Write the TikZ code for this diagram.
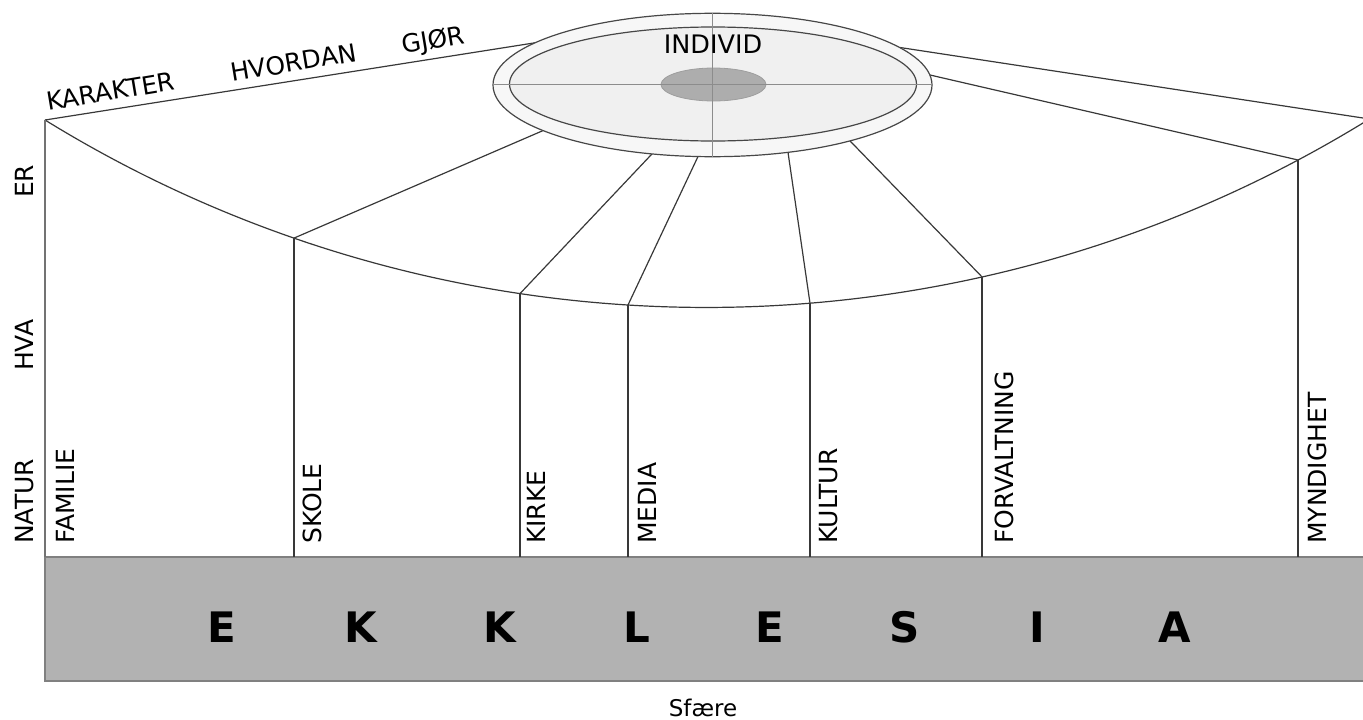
\documentclass[tikz,border=0pt]{standalone}
\usepackage{fontspec}
\setmainfont{DejaVu Sans}
\begin{document}
\begin{tikzpicture}[x=1pt,y=-1pt,
  ln/.style={draw=black!78,line width=1.2pt},
  vlabel/.style={rotate=90,anchor=base west,inner sep=0pt,font=\fontsize{25}{28}\selectfont},
  tlabel/.style={rotate=9.5,anchor=base west,inner sep=0pt,font=\fontsize{25}{28}\selectfont},
  big/.style={anchor=base,inner sep=0pt,font=\fontsize{42}{46}\selectfont\bfseries}]
\useasboundingbox (0,0) rectangle (1363,720);
% gray base
\fill[fill=black!30] (45,557) rectangle (1363,681);
\draw[draw=black!50,line width=1.6pt] (1363,557) -- (45,557) -- (45,681) -- (1363,681);
% coordinates on the big arc
\coordinate (aL) at (45,120);
\coordinate (a1) at (294,238.1);
\coordinate (a2) at (520,293.6);
\coordinate (a3) at (628,305.0);
\coordinate (a4) at (810,303.2);
\coordinate (a5) at (982,276.9);
\coordinate (a6) at (1298,160.0);
\coordinate (aR) at (1363,122.9);
% coordinates on the ellipse
\coordinate (eL) at (535,42.8);
\coordinate (e1) at (543,130.6);
\coordinate (e2) at (652,153.9);
\coordinate (e3) at (698,156.5);
\coordinate (e4) at (788,152.3);
\coordinate (e5) at (850,140.9);
\coordinate (e6) at (930,75);
\coordinate (e7) at (900,47.5);
\coordinate (tR) at (1363,118);
% bottom coordinates
\coordinate (b0) at (45,557);
\coordinate (b1) at (294,557);
\coordinate (b2) at (520,557);
\coordinate (b3) at (628,557);
\coordinate (b4) at (810,557);
\coordinate (b5) at (982,557);
\coordinate (b6) at (1298,557);
% arc
\draw[ln] (aL) arc[start angle=121.65,end angle=58.6,radius=1260.6];
% top lines
\draw[ln] (aL) -- (eL);
\draw[ln] (e7) -- (tR);
% spokes
\draw[ln] (e1) -- (a1);
\draw[ln] (e2) -- (a2);
\draw[ln] (e3) -- (a3);
\draw[ln] (e4) -- (a4);
\draw[ln] (e5) -- (a5);
\draw[ln] (e6) -- (a6);
% verticals
\draw[draw=black!55,line width=1.5pt] (aL) -- (b0);
\draw[ln] (a1) -- (b1);
\draw[ln] (a2) -- (b2);
\draw[ln] (a3) -- (b3);
\draw[ln] (a4) -- (b4);
\draw[ln] (a5) -- (b5);
\draw[ln] (a6) -- (b6);
% ellipse
\filldraw[fill=black!3,draw=black!72,line width=1.2pt] (712.5,85) ellipse[x radius=219.5,y radius=71.7];
\filldraw[fill=black!6,draw=black!72,line width=1.2pt] (713,84) ellipse[x radius=203.5,y radius=57];
\filldraw[fill=black!32,draw=black!38,line width=0.8pt] (713.5,84.5) ellipse[x radius=52.5,y radius=16.5];
\draw[draw=black!45,line width=1pt] (493,84) -- (932,84);
\draw[draw=black!45,line width=1pt] (712.5,13.3) -- (712.5,156.7);
\node[anchor=base,inner sep=0pt,font=\fontsize{25.5}{28}\selectfont] (individ) at (713,53) {INDIVID};
% top labels
\node[tlabel] (karakter) at (48,111) {KARAKTER};
\node[tlabel] (hvordan) at (232,82) {HVORDAN};
\node[tlabel] (gjor) at (403,54) {GJØR};
% left labels
\node[vlabel] (natur) at (33.5,544) {NATUR};
\node[vlabel] (hva) at (33.5,371) {HVA};
\node[vlabel] (er) at (33.5,198) {ER};
% sphere labels
\node[vlabel] (familie) at (74,544) {FAMILIE};
\node[vlabel] (skole) at (321,544) {SKOLE};
\node[vlabel] (kirke) at (545.5,544) {KIRKE};
\node[vlabel] (media) at (656,544) {MEDIA};
\node[vlabel] (kultur) at (837,544) {KULTUR};
\node[vlabel] (forvaltning) at (1013,544) {FORVALTNING};
\node[vlabel] (myndighet) at (1326,544) {MYNDIGHET};
% EKKLESIA
\node[big] (l1) at (222,642) {E};
\node[big] (l2) at (361,642) {K};
\node[big] (l3) at (500,642) {K};
\node[big] (l4) at (637,642) {L};
\node[big] (l5) at (770,642) {E};
\node[big] (l6) at (905,642) {S};
\node[big] (l7) at (1037,642) {I};
\node[big] (l8) at (1175,642) {A};
\node[anchor=base,inner sep=0pt,font=\fontsize{23}{26}\selectfont] (sfaere) at (703,716) {Sfære};
\end{tikzpicture}
\end{document}
